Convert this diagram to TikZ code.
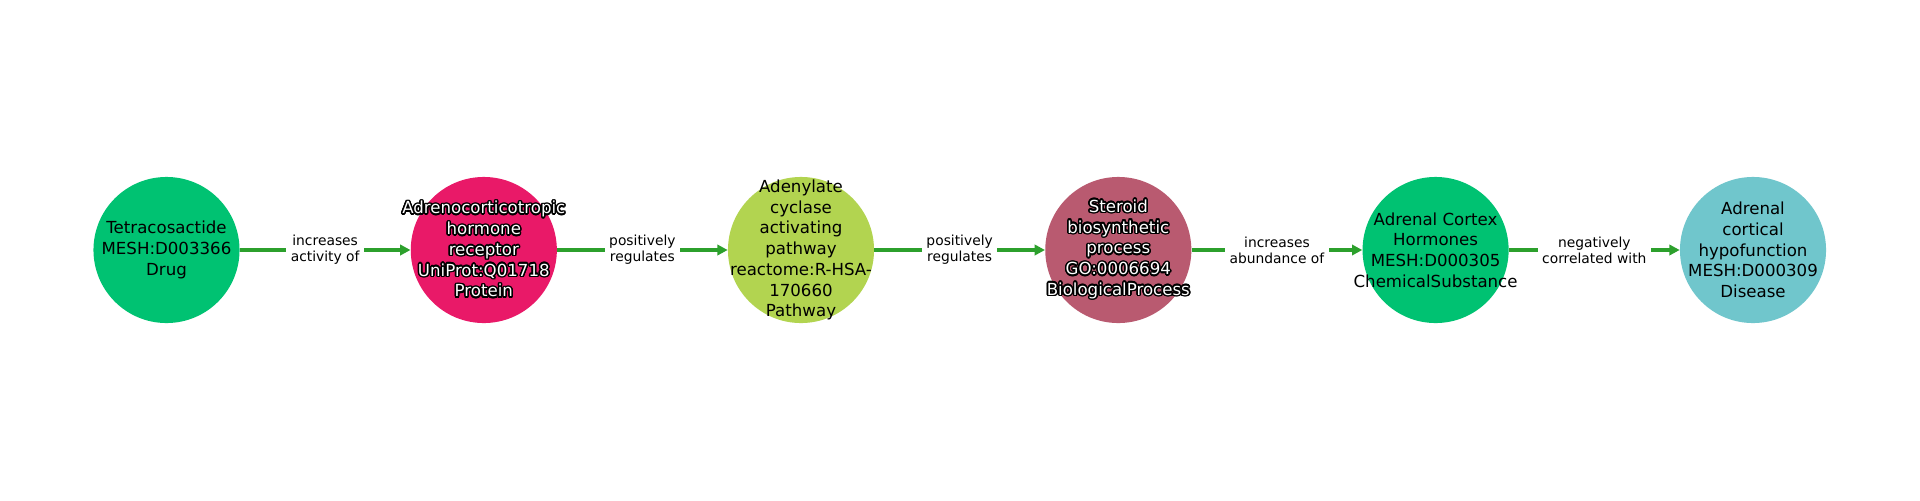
\documentclass[tikz,border=0pt]{standalone}
\usepackage{fontspec}
\setmainfont{DejaVu Sans}
\usepackage{contour}
\contourlength{1.1pt}
\usetikzlibrary{arrows.meta}
\definecolor{cdrug}{RGB}{0,194,114}
\definecolor{cprot}{RGB}{233,25,104}
\definecolor{cpath}{RGB}{178,212,80}
\definecolor{cbio}{RGB}{185,90,112}
\definecolor{cdis}{RGB}{112,198,204}
\definecolor{cedge}{RGB}{44,160,44}
\newcommand\hl[1]{\contour{black}{#1}}
\tikzset{
  ent/.style={circle, draw=none, minimum size=1.46in, inner sep=0pt},
  tx/.style={align=center, inner sep=0pt, font=\fontsize{12}{15}\selectfont, text=black},
  htx/.style={tx, text=white},
  rel/.style={draw=cedge, line width=2.4pt, -{Triangle[length=7.4pt,width=7.4pt]}},
  lbl/.style={fill=white, inner xsep=3.2pt, inner ysep=2pt, align=center,
    font=\fontsize{10}{11.8}\selectfont, text=black}
}
\begin{document}
\begin{tikzpicture}[x=0.01in,y=-0.01in]
\useasboundingbox[fill=white] (0,0) rectangle (1920,500);
\node[ent, fill=cdrug, label={[tx]center:{Tetracosactide\\MESH:D003366\\Drug}}] (n1) at (166.5,250) {};
\node[ent, fill=cprot, label={[htx]center:{\hl{Adrenocorticotropic}\\\hl{hormone}\\\hl{receptor}\\\hl{UniProt:Q01718}\\\hl{Protein}}}] (n2) at (483.8,250) {};
\node[ent, fill=cpath, label={[tx]center:{Adenylate\\cyclase\\activating\\pathway\\reactome:R-HSA-\\170660\\Pathway}}] (n3) at (801,250) {};
\node[ent, fill=cbio, label={[htx]center:{\hl{Steroid}\\\hl{biosynthetic}\\\hl{process}\\\hl{GO:0006694}\\\hl{BiologicalProcess}}}] (n4) at (1118.3,250) {};
\node[ent, fill=cdrug, label={[tx]center:{Adrenal Cortex\\Hormones\\MESH:D000305\\ChemicalSubstance}}] (n5) at (1435.6,250) {};
\node[ent, fill=cdis, label={[tx]center:{Adrenal\\cortical\\hypofunction\\MESH:D000309\\Disease}}] (n6) at (1753,250) {};
\draw[rel] (n1) -- node[lbl] {increases\\activity of} (n2);
\draw[rel] (n2) -- node[lbl] {positively\\regulates} (n3);
\draw[rel] (n3) -- node[lbl] {positively\\regulates} (n4);
\draw[rel] (n4) -- node[lbl] {increases\\abundance of} (n5);
\draw[rel] (n5) -- node[lbl] {negatively\\correlated with} (n6);
\end{tikzpicture}
\end{document}
